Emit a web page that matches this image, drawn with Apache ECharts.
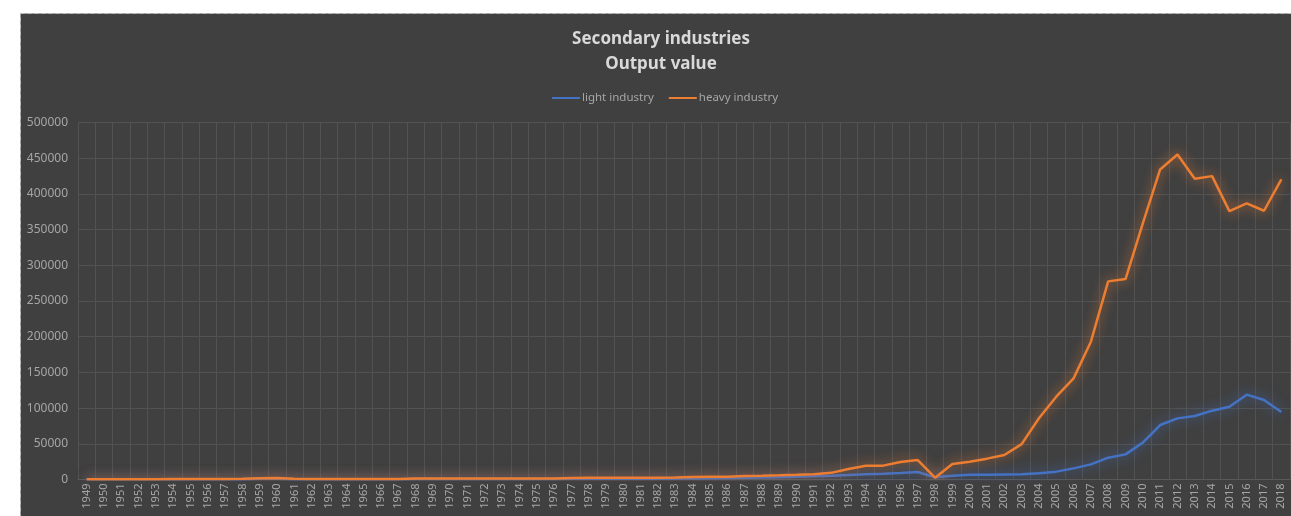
<!DOCTYPE html>
<html><head><meta charset="utf-8">
<script src="https://cdn.jsdelivr.net/npm/echarts@6/dist/echarts.min.js"></script>
<style>html,body{margin:0;padding:0;background:#fff;}#c{width:1291px;height:516px;}</style>
</head><body><div id="c"></div>
<script>
const years = [];
for (let y = 1949; y <= 2018; y++) years.push(String(y));

const lightIndustry = [
  200, 220, 250, 280, 300, 320, 340, 360, 380, 450,
  900, 1000, 500, 400, 420, 450, 480, 500, 480, 700,
  700, 720, 740, 760, 780, 800, 820, 840, 900, 950,
  1000, 1100, 1150, 1200, 1300, 1500, 1700, 2000, 2400, 2800,
  3300, 4000, 4600, 5400, 6300, 7300, 8000, 9100, 10500, 3000,
  5300, 6700, 6800, 7000, 7200, 8600, 11000, 15600, 21200, 30600,
  35200, 51600, 76300, 85600, 88900, 96400, 102000, 118800, 111300, 94500
];
const heavyIndustry = [
  300, 350, 400, 450, 500, 550, 600, 650, 700, 900,
  1800, 2000, 900, 700, 700, 750, 800, 850, 800, 1500,
  1500, 1500, 1500, 1500, 1500, 1500, 1500, 1500, 2200, 2300,
  2400, 2500, 2500, 2600, 2800, 3500, 3800, 4000, 4900, 5200,
  5800, 6500, 7500, 9300, 14700, 19400, 19400, 24500, 27300, 2500,
  21700, 25000, 29200, 34300, 49500, 85700, 116000, 141600, 193000, 277500,
  280700, 358600, 434200, 455200, 421200, 424900, 375900, 386600, 376400, 420200
];
const seriesNames = ['light industry', 'heavy industry'];
const titleLines = ['Secondary industries', 'Output value'];

const FONT = 'Noto Sans';
const chart = echarts.init(document.getElementById('c'), null, {renderer: 'canvas'});
chart.setOption({
  backgroundColor: '#ffffff',
  animation: false,
  graphic: [{
    type: 'rect', z: -10, silent: true,
    shape: {x: 20.5, y: 13.5, width: 1290, height: 520},
    style: {fill: '#404040', stroke: '#bdbdbd', lineWidth: 1, lineDash: [4, 3]}
  }],
  title: {
    text: titleLines.join('\n'),
    left: 656, top: 22, textAlign: 'center',
    textStyle: {color: '#d9d9d9', fontSize: 17, fontWeight: 'bold', fontFamily: FONT, lineHeight: 25}
  },
  legend: {
    data: seriesNames,
    left: 547, top: 87,
    itemWidth: 28, itemHeight: 10, itemGap: 15,
    icon: 'path://M0,4 L28,4 L28,6 L0,6 Z',
    textStyle: {color: '#a6a6a6', fontSize: 11.5, fontFamily: FONT, padding: [0, 0, 0, -3]}
  },
  grid: {left: 78, right: 1, top: 122.5, bottom: 36.5, containLabel: false},
  xAxis: {
    type: 'category', data: years, boundaryGap: true,
    axisLine: {show: true, lineStyle: {color: '#595959'}},
    axisTick: {show: false},
    splitLine: {show: true, interval: 0, lineStyle: {color: '#525252', width: 1}},
    axisLabel: {interval: 0, rotate: 90, color: '#a6a6a6', fontSize: 11, fontFamily: FONT, margin: 4}
  },
  yAxis: {
    type: 'value', min: 0, max: 500000, interval: 50000,
    axisLine: {show: false}, axisTick: {show: false},
    splitLine: {lineStyle: {color: '#525252', width: 1}},
    axisLabel: {color: '#a6a6a6', fontSize: 12, fontFamily: FONT, margin: 10, formatter: v => String(v)}
  },
  series: [
    {
      name: seriesNames[0], type: 'line', data: lightIndustry, symbol: 'none',
      itemStyle: {color: '#4472c4'},
      lineStyle: {color: '#4472c4', width: 2.5, shadowColor: 'rgba(68,114,196,0.9)', shadowBlur: 12}
    },
    {
      name: seriesNames[1], type: 'line', data: heavyIndustry, symbol: 'none',
      itemStyle: {color: '#ed7d31'},
      lineStyle: {color: '#ed7d31', width: 2.5, shadowColor: 'rgba(237,125,49,0.9)', shadowBlur: 12}
    }
  ]
});
</script></body></html>
